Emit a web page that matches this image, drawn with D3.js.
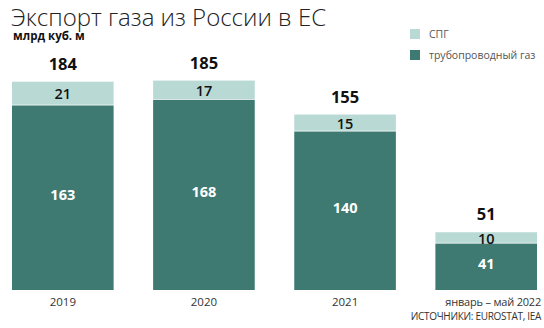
<!DOCTYPE html>
<html><head><meta charset="utf-8">
<script src="https://cdn.jsdelivr.net/npm/d3@7"></script>
<style>body{margin:0;background:#fff}svg{display:block}</style>
</head><body>
<script>
const categories = ["2019", "2020", "2021", "январь – май 2022"];
const pipeline = [163, 168, 140, 41];
const lng = [21, 17, 15, 10];
const totals = [184, 185, 155, 51];
const seriesNames = ["СПГ", "трубопроводный газ"];

const W = 544, H = 328;
const colDark = "#3f7a72", colLight = "#b8d9d4";
const font = "'Open Sans', sans-serif";
const svg = d3.select("body").append("svg").attr("width", W).attr("height", H);

svg.append("text").attr("x", 11).attr("y", 26).attr("font-family", font).attr("font-weight", 300)
  .attr("font-size", 24).attr("fill", "#222").text("Экспорт газа из России в ЕС");
svg.append("text").attr("x", 13).attr("y", 40).attr("font-family", font).attr("font-weight", 700)
  .attr("font-size", 11.5).attr("fill", "#111").text("млрд куб. м");

const x = d3.scaleBand().domain(categories).range([12, 537]).paddingInner(0.28).paddingOuter(0);
const y = d3.scaleLinear().domain([0, 184]).range([290, 81.7]);

const data = categories.map((c, i) => ({ c, p: pipeline[i], l: lng[i], t: totals[i] }));
const g = svg.append("g");
g.selectAll(".dark").data(data).join("rect").attr("x", d => x(d.c)).attr("width", x.bandwidth())
  .attr("y", d => y(d.p)).attr("height", d => y(0) - y(d.p)).attr("fill", colDark);
g.selectAll(".light").data(data).join("rect").attr("x", d => x(d.c)).attr("width", x.bandwidth())
  .attr("y", d => y(d.p + d.l)).attr("height", d => y(d.p) - y(d.p + d.l) - 0.8).attr("fill", colLight);

g.selectAll(".pl").data(data).join("text").attr("x", d => x(d.c) + x.bandwidth() / 2)
  .attr("y", d => (y(0) + y(d.p)) / 2 - 3).attr("dy", "0.35em").attr("text-anchor", "middle")
  .attr("font-family", font).attr("font-weight", 700).attr("font-size", 14.5).attr("fill", "#fff")
  .text(d => d.p);
g.selectAll(".ll").data(data).join("text").attr("x", d => x(d.c) + x.bandwidth() / 2)
  .attr("y", d => (y(d.p) + y(d.p + d.l)) / 2 + 0.5).attr("dy", "0.35em").attr("text-anchor", "middle")
  .attr("font-family", font).attr("font-weight", 600).attr("font-size", 14.5).attr("fill", "#111")
  .text(d => d.l);
g.selectAll(".tl").data(data).join("text").attr("x", d => x(d.c) + x.bandwidth() / 2)
  .attr("y", d => y(d.t) - 12).attr("text-anchor", "middle")
  .attr("font-family", font).attr("font-weight", 700).attr("font-size", 16.5).attr("fill", "#111")
  .text(d => d.t);

const ax = svg.append("g").attr("transform", "translate(0,290)").call(d3.axisBottom(x).tickSize(0).tickPadding(8));
ax.select(".domain").remove();
ax.selectAll("text").attr("font-family", font).attr("font-size", 11.5).attr("fill", "#333")
  .attr("text-anchor", (d, i) => i === 3 ? "end" : "middle")
  .attr("x", (d, i) => i === 3 ? 541 - (x(d) + x.bandwidth() / 2) : 0);
ax.selectAll("text").filter((d, i) => i === 3).attr("font-size", 11).attr("letter-spacing", -0.2);

svg.append("text").attr("x", 541).attr("y", 320).attr("text-anchor", "end").attr("font-family", font)
  .attr("font-size", 10).attr("letter-spacing", -0.3).attr("fill", "#333").text("ИСТОЧНИКИ: EUROSTAT, IEA");

const lg = svg.append("g");
[colLight, colDark].forEach((c, i) => {
  lg.append("rect").attr("x", 410).attr("y", 29 + i * 21).attr("width", 10).attr("height", 10).attr("fill", c);
  lg.append("text").attr("x", 429).attr("y", 38 + i * 21).attr("font-family", font).attr("font-size", 10.5)
    .attr("fill", "#555").text(seriesNames[i]);
});
</script>
</body></html>
